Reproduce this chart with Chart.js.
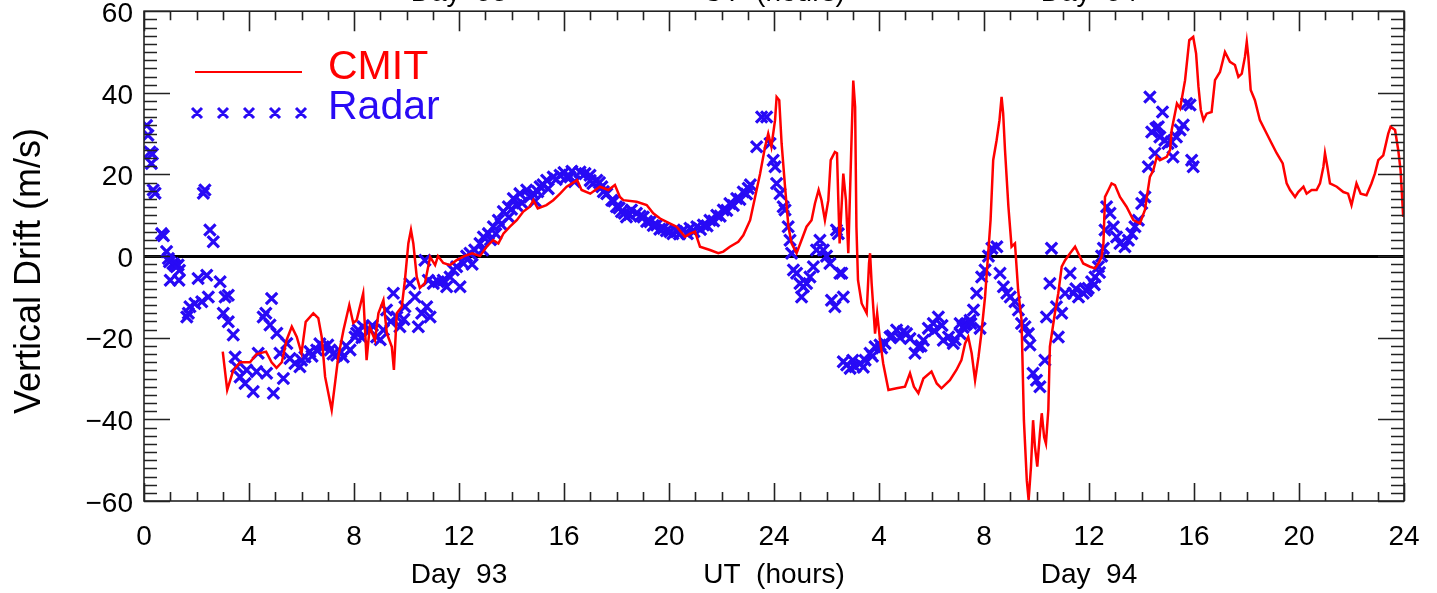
<!DOCTYPE html>
<html>
<head>
<meta charset="utf-8">
<script src="https://cdn.jsdelivr.net/npm/chart.js@4.4.1/dist/chart.umd.min.js"></script>
<style>
  body { margin: 0; background: #fff; }
  canvas { display: block; }
</style>
</head>
<body>
<canvas id="drift_chart" width="1437" height="593"></canvas>
<script>
// UT hours counted from the start of day 93 (24..48 = day 94)
var cmitHours = [3.0,3.17,3.4,3.66,4.04,4.29,4.65,4.86,5.05,5.25,5.43,5.63,5.82,6.0,6.16,6.45,6.64,6.77,6.9,7.15,7.28,7.4,7.6,7.82,7.97,8.1,8.35,8.48,8.6,8.8,8.93,9.12,9.25,9.44,9.52,9.63,9.82,9.94,10.07,10.17,10.26,10.39,10.51,10.7,10.9,11.09,11.2,11.4,11.66,11.91,12.2,12.5,12.8,13.05,13.3,13.5,13.69,13.94,14.2,14.45,14.7,14.83,15.0,15.33,15.59,15.85,16.1,16.5,16.67,17.0,17.37,17.69,17.94,18.13,18.26,18.77,19.15,19.4,19.66,19.91,20.29,20.61,20.8,20.99,21.18,21.56,21.88,22.07,22.32,22.64,22.83,23.09,23.28,23.47,23.66,23.78,23.9,24.04,24.1,24.2,24.29,24.42,24.55,24.67,24.86,25.0,25.24,25.43,25.56,25.7,25.81,25.94,26.07,26.16,26.32,26.4,26.45,26.5,26.64,26.74,26.83,26.96,27.02,27.09,27.14,27.2,27.34,27.53,27.62,27.66,27.72,27.85,27.93,28.04,28.16,28.36,28.67,28.99,29.18,29.33,29.5,29.69,30.0,30.2,30.38,30.7,30.95,31.14,31.28,31.4,31.53,31.66,31.79,31.9,32.04,32.16,32.25,32.35,32.48,32.59,32.67,32.73,32.8,32.93,33.05,33.18,33.3,33.43,33.52,33.63,33.7,33.79,33.87,33.94,34.03,34.13,34.2,34.29,34.36,34.45,34.51,34.7,34.83,34.96,35.09,35.28,35.47,35.59,35.78,36.04,36.23,36.39,36.48,36.55,36.61,36.74,36.86,36.99,37.18,37.43,37.69,37.94,38.13,38.32,38.45,38.58,38.7,38.96,39.09,39.15,39.35,39.47,39.57,39.66,39.82,39.97,40.08,40.17,40.26,40.36,40.48,40.67,40.8,40.99,41.18,41.37,41.56,41.69,41.82,41.94,42.01,42.07,42.16,42.32,42.51,42.7,42.96,43.15,43.38,43.53,43.66,43.85,43.97,44.17,44.29,44.48,44.67,44.8,44.93,44.99,45.08,45.18,45.44,45.69,45.87,46.0,46.1,46.19,46.35,46.57,46.76,46.89,47.02,47.21,47.4,47.49,47.66,47.78,47.87,47.97];
var cmitDrift = [-23.4,-32.8,-28,-26,-26,-24,-23.4,-26,-27.4,-26,-20.6,-17.3,-19.8,-23.8,-16.1,-14,-15.2,-19.8,-29.6,-37.7,-31,-24.7,-18.1,-12,-16.4,-15.7,-9.1,-25.5,-17.3,-20.6,-14,-10.8,-18.9,-22.2,-27.9,-14,-12.4,-5.9,3.1,6.4,3.1,-5.1,-7.8,-6.7,-0.2,-2.2,0,-1.7,-2.2,-1,0,0.7,0,2.3,3.9,3.1,5.5,7.2,8.8,10.9,12.1,13.7,11.7,12.5,13.7,15.3,17,18.6,16.2,15.3,17,16.2,17.4,14.5,13.7,13.3,12.5,10.5,9.2,8.4,7.2,4.7,5.5,6,2.3,1.5,0.7,1.1,2.3,3.5,5.1,8.8,14.5,20.2,26.8,30,26.8,33.3,39,38.2,27.6,17,7.2,3.1,0.7,3.1,7.2,8.8,12.9,16.2,13.7,8.8,13.7,23.5,25.5,25.2,13.7,3.1,20.2,13.7,0.7,30,43,36.6,7.2,-5.9,-11.6,-14,-1.8,0.7,-6.7,-19,-14,-20.6,-26.3,-32.8,-32.4,-32,-28.7,-32,-33.6,-30,-28.3,-31.2,-32.4,-30.4,-27.9,-25.5,-21.4,-19.8,-23.8,-30.4,-24.7,-18.9,-10,0.7,8.8,23.5,28.4,33.3,39,35,26,12.1,2.3,3.1,-8.3,-15.7,-40.2,-54.9,-59.8,-51.6,-40.2,-46.7,-51.6,-43.4,-38.5,-44.3,-45.9,-37.7,-22.2,-14,-9.1,-2.6,-1,0.7,2.3,0.7,-1.8,-2.6,-3,-1.4,-0.2,3.1,14.5,16.2,17.8,17.4,14.5,12.1,8.8,8,11.3,19.4,21,24.3,23.5,24.3,26,30.9,37.4,36.2,39.8,43.1,52.9,53.7,49.6,41.5,35.8,33.3,34.9,35.3,43.1,45.1,50,47.6,46.8,43.9,44.7,48.8,52.5,48.8,40.7,38.2,33.3,30.9,27.6,25.2,22.7,17.8,16.2,14.5,15.7,17,15.3,16.2,16.2,17.8,21.9,25.2,21.9,17.8,17,15.7,15.3,12.5,15.3,17.8,15.3,14.9,17.8,20.2,23.5,24.7,30,31.7,30.9,26,21,9.6];

var radarHours = [0.10,0.15,0.23,0.28,0.32,0.35,0.42,0.67,0.74,0.86,0.93,0.97,1.10,1.16,1.23,1.30,1.00,1.33,1.35,1.63,1.69,1.75,1.94,2.20,2.45,2.06,2.39,2.26,2.32,2.51,2.64,2.90,3.09,3.21,3.02,3.21,3.40,3.47,3.53,3.66,3.85,4.16,3.91,4.29,4.35,4.67,4.54,4.64,4.80,4.86,4.93,5.06,5.18,5.31,5.44,5.56,5.75,5.94,6.13,6.32,6.58,6.83,7.09,7.34,7.59,7.85,8.04,8.16,8.10,8.35,8.61,8.86,9.12,9.24,9.50,9.63,9.75,9.94,10.13,10.32,10.45,10.58,10.70,10.77,10.90,10.83,11.02,11.21,11.40,11.53,11.66,11.78,11.91,12.04,12.17,12.29,12.42,12.60,12.80,12.93,13.12,13.20,13.31,13.50,13.69,13.88,13.90,14.07,14.32,14.40,14.58,14.83,14.90,15.09,15.34,15.40,15.59,15.85,16.10,16.23,16.40,16.61,16.99,17.10,17.25,17.44,17.63,17.82,18.00,18.19,18.38,18.57,18.76,19.02,19.28,19.53,19.78,20.04,20.29,20.55,20.80,21.06,21.31,21.56,21.82,22.07,22.32,22.58,22.83,23.02,23.34,23.53,23.72,23.85,23.97,24.04,24.10,24.23,24.35,24.42,24.54,24.61,24.67,24.74,24.86,24.99,25.05,25.12,25.24,25.37,25.50,25.62,25.75,25.88,26.00,26.13,26.19,26.32,26.38,26.45,26.51,26.58,26.64,26.64,26.77,26.90,27.09,27.28,27.47,27.66,27.85,28.04,28.23,28.42,28.67,28.93,29.18,29.37,29.50,29.69,29.88,30.07,30.26,30.45,30.65,30.83,31.09,31.09,31.28,31.34,31.47,31.60,31.72,31.85,31.91,32.04,32.17,32.30,32.49,32.61,32.74,32.87,33.00,33.18,33.31,33.43,33.56,33.69,33.75,33.87,34.00,34.13,34.32,34.38,34.51,34.57,34.76,34.83,34.96,35.09,35.28,35.40,35.60,35.78,35.97,36.10,36.23,36.36,36.48,36.55,36.61,36.67,36.80,36.93,37.05,37.18,37.37,37.50,37.63,37.75,37.88,38.01,38.13,38.26,38.32,38.39,38.51,38.55,38.64,38.70,38.80,38.89,39.01,39.14,39.20,39.33,39.47,39.59,39.72,39.85,39.91,39.97,
  6.00,6.40,6.70,7.00,7.20,7.50,7.70,8.30,8.70,9.00,9.40,9.90,
  12.50,12.90,13.40,13.60,14.00,14.20,14.70,15.00,15.20,15.70,16.00,16.30,16.80,17.00,17.35,17.50,17.90,18.10,18.30,18.50,18.90,19.15,19.40,19.65,19.90,20.15,20.40,20.70,20.95,21.20,21.45,21.70,21.95,22.20,22.45,22.70,22.95,23.10,
  27.00,27.40,27.75,28.10,28.50,28.80,29.05,29.60,30.10,30.40,30.90,31.20,31.50,
  35.50,35.90,36.20,36.40];
var radarDrift = [32,29.6,25.5,22.7,25,16.2,15.4,5.5,5,1.1,-0.6,-1.4,-1.8,-2.2,-2.6,-2.2,-5.9,-5.9,-3.5,-14.9,-14,-12.4,-11.6,-11.2,-10,-5.5,-4.7,15.4,16.2,6.4,3.5,-6.3,-10,-9.6,-14,-16.1,-19.3,-24.7,-27.1,-29.6,-31.2,-33.2,-27.9,-28.3,-23.8,-28.7,-14.9,-14,-16.9,-10.4,-33.6,-18.9,-23.8,-30,-21.4,-25.1,-26.3,-27.1,-24.7,-23.4,-23,-22.2,-23,-24.3,-24.7,-23,-19.8,-18.1,-18.9,-17.3,-18.1,-19.8,-18.1,-13.2,-9.1,-14.9,-17.3,-12.4,-6.7,-10,-17.3,-14,-1,-12.4,-14.9,-5.9,-6.7,-6.3,-5.9,-7.5,-5.1,-3.4,-2.6,-7.5,-1.8,0,0.7,1.5,3.1,4.7,5.5,4,7.2,8.8,10.9,12.1,9.5,14.1,15.3,13,16.2,15.3,13.5,17,18.6,16.5,19.4,19.8,19.4,19.4,18.2,20.6,19.8,17.8,18.6,17,15.3,13.7,12.1,10.9,9.6,11.3,10.5,9.6,8.4,7.6,6.8,6,6,6.4,6.8,7.2,7.6,8.8,10,11.3,12.9,14.1,15.7,16.6,26.8,34.1,34.1,27.6,23.5,21.9,17.8,15.3,12.1,11.3,7.2,3.9,0.7,-3.4,-4.2,-6.7,-10,-7.5,-6.7,-5.1,-2.6,1.5,3.9,1.5,0,-1.8,-10.8,-12.4,6.4,5.5,-4.2,-4.2,-10,-25.9,-26.7,-27.5,-27.1,-26.3,-25.5,-23.8,-22.2,-21.8,-21.4,-19.8,-18.1,-18.5,-20.2,-23.8,-22.2,-20.6,-17.7,-16.5,-14.9,-20.6,-19.8,-21.4,-19,-16.5,-16.9,-16.5,-15.7,-13.2,-9.1,-17.7,-5.1,-3.4,0,1.9,2.3,-4.2,-7.5,-9.1,-10,-11.2,-13.2,-16.5,-17.3,-19,-21.8,-28.7,-30.4,-32,-25.5,-14.9,-6.7,1.9,-12.4,-19.8,-14,-9.1,-4.2,-9.1,-10,-9.1,-7.9,-6.3,-5.1,-2.6,0,1.9,6.4,12.1,10.5,7.2,4.7,3.1,2.3,3.9,5.5,7.2,8.8,12.9,14.5,21.9,39,30.4,25.2,31.3,31.7,29.2,35.3,28.4,27.6,28,24.3,29.2,30.9,32.1,37.4,37,23.5,21.9,
  -25.5,-24.5,-21.5,-21.8,-24,-23.5,-22,-20,-17,-20.5,-16,-15.5,
  -2,1.5,5.5,7.8,11.5,12.4,14.5,15.8,17.5,18.8,20.5,20.8,20.2,18.5,18,15.8,13.5,11.8,10.5,10.2,9.8,8.5,7.5,6.6,6.2,5.5,5.4,5.5,6,6.5,7.4,8.6,9.8,11.2,12.4,13.9,15.2,17.5,
  -25.5,-27.2,-24.5,-22.5,-19.5,-20,-19,-22,-18.3,-17,-20.5,-17.5,-16.5,
  -8,-8.5,-7,-4];

var hourTicks = [0, 4, 8, 12, 16, 20, 24, 28, 32, 36, 40, 44, 48];
var driftTicks = [-60, -40, -20, 0, 20, 40, 60];
var axisNotes = [[12, 'Day  93'], [24, 'UT  (hours)'], [36, 'Day  94']];

var RED = '#ff0000';
var BLUE = 'rgb(40,10,245)';
var FONT = '"Liberation Sans", Arial, sans-serif';

function pairs(xs, ys) {
  return xs.map(function (x, i) { return {x: x, y: ys[i]}; });
}

// frame with inward ticks on all four sides, legend and axis captions
var decorations = {
  id: 'decorations',
  afterDraw: function (chart) {
    var ctx = chart.ctx, a = chart.chartArea;
    var xs = chart.scales.x, ys = chart.scales.y;
    ctx.save();
    ctx.strokeStyle = '#222';
    ctx.lineWidth = 1.6;
    ctx.strokeRect(a.left, a.top, a.right - a.left, a.bottom - a.top);

    ctx.beginPath();
    for (var h = 0; h <= 48; h++) {
      var px = Math.round(xs.getPixelForValue(h)) + 0.5;
      var major = h % 4 === 0;
      ctx.moveTo(px, a.bottom); ctx.lineTo(px, a.bottom - (major ? 18 : 9));
      ctx.moveTo(px, a.top); ctx.lineTo(px, a.top + (major ? 20 : 9));
    }
    for (var v = -60; v <= 60; v += 2) {
      var py = Math.round(ys.getPixelForValue(v)) + 0.5;
      var big = v % 20 === 0;
      ctx.moveTo(a.left, py); ctx.lineTo(a.left + (big ? 26 : 13), py);
      ctx.moveTo(a.right, py); ctx.lineTo(a.right - (big ? 26 : 13), py);
    }
    ctx.stroke();

    // captions under the axis, and their clipped copies at the very top
    ctx.fillStyle = '#000';
    ctx.font = '28px ' + FONT;
    ctx.textAlign = 'center';
    axisNotes.forEach(function (n) {
      var cx = xs.getPixelForValue(n[0]);
      ctx.textBaseline = 'middle';
      ctx.fillText(n[1], cx, 575);
      ctx.textBaseline = 'alphabetic';
      ctx.fillText(n[1], cx, 1);
    });

    // y axis title
    ctx.save();
    ctx.translate(30, 271);
    ctx.rotate(-Math.PI / 2);
    ctx.textBaseline = 'middle';
    ctx.font = '36px ' + FONT;
    ctx.fillText('Vertical Drift (m/s)', 0, 0);
    ctx.restore();

    // legend
    ctx.strokeStyle = RED;
    ctx.lineWidth = 2;
    ctx.beginPath();
    ctx.moveTo(195, 72); ctx.lineTo(302, 72);
    ctx.stroke();
    ctx.strokeStyle = BLUE;
    ctx.lineWidth = 3;
    ctx.beginPath();
    [197, 223, 249, 275, 301].forEach(function (cx) {
      ctx.moveTo(cx - 5, 108); ctx.lineTo(cx + 5, 118);
      ctx.moveTo(cx - 5, 118); ctx.lineTo(cx + 5, 108);
    });
    ctx.stroke();
    ctx.font = '41px ' + FONT;
    ctx.textAlign = 'left';
    ctx.textBaseline = 'middle';
    ctx.fillStyle = RED;
    ctx.fillText('CMIT', 328, 68);
    ctx.fillStyle = BLUE;
    ctx.fillText('Radar', 328, 108);
    ctx.restore();
  }
};

var chart = new Chart(document.getElementById('drift_chart').getContext('2d'), {
  type: 'scatter',
  data: {
    datasets: [{
      label: 'CMIT',
      data: pairs(cmitHours, cmitDrift),
      showLine: true,
      borderColor: RED,
      borderWidth: 2.5,
      pointRadius: 0,
      tension: 0
    }, {
      label: 'Radar',
      data: pairs(radarHours, radarDrift),
      showLine: false,
      pointStyle: 'crossRot',
      pointRadius: 8,
      borderColor: BLUE,
      backgroundColor: BLUE,
      pointBorderWidth: 3.2
    }]
  },
  options: {
    responsive: false,
    animation: false,
    layout: {padding: {top: 11, right: 33, left: 0, bottom: 0}},
    plugins: {legend: {display: false}, tooltip: {enabled: false}},
    scales: {
      x: {
        type: 'linear', min: 0, max: 48,
        afterFit: function (s) { s.height = 92; s.paddingLeft = 0; s.paddingRight = 0; },
        afterBuildTicks: function (s) { s.ticks = hourTicks.map(function (v) { return {value: v}; }); },
        border: {display: false},
        grid: {display: false, drawTicks: false},
        ticks: {
          autoSkip: false, maxRotation: 0, padding: 19, color: '#000',
          font: {size: 28, family: FONT},
          callback: function (v) { return v > 24 ? v - 24 : v; }
        }
      },
      y: {
        min: -60, max: 60,
        afterFit: function (s) { s.width = 144; s.paddingTop = 0; s.paddingBottom = 0; },
        afterBuildTicks: function (s) { s.ticks = driftTicks.map(function (v) { return {value: v}; }); },
        border: {display: false},
        grid: {
          drawTicks: false,
          lineWidth: 3,
          color: function (c) { return c.tick && c.tick.value === 0 ? '#000' : 'rgba(0,0,0,0)'; }
        },
        ticks: {
          padding: 11, labelOffset: 3, color: '#000',
          font: {size: 28, family: FONT},
          callback: function (v) { return v < 0 ? '\u2212' + Math.abs(v) : String(v); }
        }
      }
    }
  },
  plugins: [decorations]
});
</script>
</body>
</html>
